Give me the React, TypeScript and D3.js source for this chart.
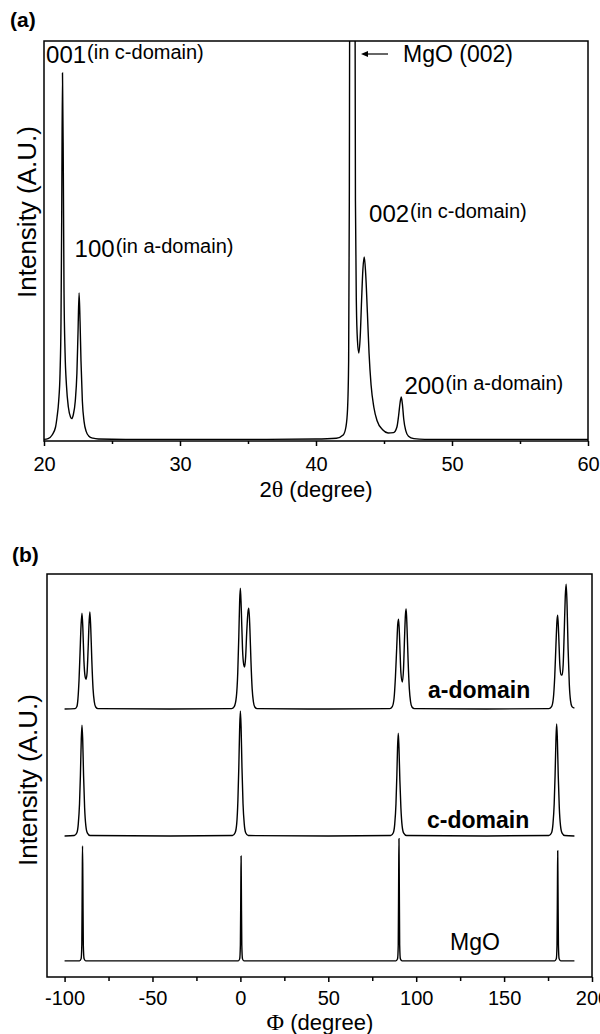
import React, { useEffect, useRef } from 'react';
import * as d3 from 'd3';

// (a) theta-2theta scan: [2theta, intensity in % of plot height]
const thetaScan: [number, number][] = [
  [20.0, 0.4], [20.3, 0.6], [20.6, 1.5], [20.85, 3.5], [20.96, 6], [21.08, 10], [21.18, 17],
  [21.25, 30], [21.3, 55], [21.36, 92], [21.42, 68], [21.47, 38], [21.55, 22], [21.65, 14],
  [21.79, 8.5], [21.95, 6], [22.04, 5.6], [22.15, 6.5], [22.3, 10], [22.42, 17], [22.5, 27],
  [22.58, 37], [22.65, 30], [22.72, 20], [22.82, 10], [22.95, 4.8], [23.1, 2.4], [23.3, 1.2],
  [23.6, 0.7], [24.0, 0.5], [26, 0.4], [30, 0.4], [35, 0.4], [40, 0.5], [41.5, 0.7],
  [42.0, 1.5], [42.2, 3.5], [42.32, 8], [42.4, 20], [42.45, 60], [42.5, 140], [42.85, 140],
  [42.9, 60], [42.97, 34], [43.05, 25], [43.15, 22], [43.25, 26], [43.35, 35], [43.45, 43],
  [43.55, 46], [43.65, 42], [43.78, 32], [43.9, 22], [44.05, 14], [44.25, 8.5], [44.5, 5],
  [44.9, 2.8], [45.3, 2.0], [45.7, 2.1], [45.95, 3.5], [46.08, 6.5], [46.18, 9.5], [46.27, 11],
  [46.36, 9], [46.45, 5.5], [46.6, 2.6], [46.8, 1.2], [47.2, 0.6], [48, 0.4], [55, 0.4], [60, 0.4],
];
const thetaTicks = [20, 30, 40, 50, 60];
const thetaMinor = [25, 35, 45, 55];

// (b) phi scans: [phi, intensity above own baseline]
const aDomainScan: [number, number][] = [
  [-100, 0], [-94, 0.1], [-93, 0.6], [-92.4, 2.5], [-91.8, 7], [-91.2, 14], [-90.6, 21], [-90.1, 23.8],
  [-89.6, 20], [-89.0, 12], [-88.3, 8], [-87.8, 7.4], [-87.2, 9], [-86.6, 15], [-86.0, 22], [-85.6, 24.1],
  [-85.1, 20], [-84.5, 12], [-83.8, 5], [-83.1, 1.8], [-82.3, 0.5], [-81, 0.1], [-40, 0],
  [-5, 0.1], [-3.5, 0.6], [-2.3, 3], [-1.5, 9], [-0.9, 18], [-0.4, 27], [0.0, 30], [0.5, 25],
  [1.2, 15], [1.9, 11], [2.4, 10.4], [3.0, 13], [3.6, 19], [4.3, 24], [4.8, 25], [5.4, 20],
  [6.0, 12], [6.7, 5], [7.4, 1.8], [8.2, 0.5], [9.5, 0.1], [50, 0],
  [85, 0.1], [86.4, 0.6], [87.4, 2.6], [88.2, 8], [88.9, 15], [89.5, 21], [90.0, 22.3], [90.6, 17],
  [91.3, 9], [92.1, 6.7], [92.8, 10], [93.4, 18], [93.9, 23.5], [94.3, 24.8], [94.8, 20], [95.4, 12],
  [96.1, 5], [96.8, 1.8], [97.6, 0.5], [99, 0.1], [140, 0],
  [175.5, 0.1], [177, 0.6], [178, 2.6], [178.8, 8], [179.5, 16], [180.1, 22], [180.5, 23.3],
  [181.0, 19], [181.7, 11], [182.4, 8.5], [183.0, 8.4], [183.6, 11], [184.2, 19], [184.8, 28],
  [185.3, 31], [185.8, 26], [186.4, 15], [187.1, 6], [187.8, 2], [188.6, 0.6], [190, 0.2],
];
const cDomainScan: [number, number][] = [
  [-100, 0], [-94.5, 0.1], [-93, 0.8], [-92.2, 3], [-91.5, 8], [-91, 15], [-90.5, 24], [-90.1, 27.5],
  [-89.7, 24], [-89.2, 15], [-88.6, 7], [-87.9, 2.5], [-87, 0.7], [-85.5, 0.1], [-40, 0],
  [-4.5, 0.1], [-3, 0.8], [-2.1, 3], [-1.4, 9], [-0.9, 17], [-0.4, 27], [0, 31], [0.4, 27],
  [0.9, 17], [1.5, 8], [2.2, 3], [3, 0.8], [4.5, 0.1], [50, 0],
  [85.5, 0.1], [87, 0.8], [87.8, 3], [88.5, 8], [89, 15], [89.4, 22], [89.8, 25.5], [90.2, 22],
  [90.7, 14], [91.3, 7], [92, 2.5], [92.9, 0.7], [94.5, 0.1], [140, 0],
  [175.5, 0.1], [177, 0.8], [177.8, 3], [178.5, 8], [179, 15], [179.5, 24], [179.9, 27.8],
  [180.3, 24], [180.8, 15], [181.4, 7], [182.1, 2.5], [183, 0.7], [184.5, 0.1], [190, 0],
];
const mgoScan: [number, number][] = [
  [-100, 0], [-91.5, 0], [-90.6, 0.5], [-90.2, 4], [-89.95, 20], [-89.8, 28.5], [-89.6, 20],
  [-89.35, 4], [-88.9, 0.5], [-88, 0], [-40, 0],
  [-1.2, 0], [-0.4, 0.5], [0.0, 4], [0.25, 18], [0.4, 26], [0.55, 18], [0.8, 4], [1.2, 0.5], [2, 0], [50, 0],
  [88.5, 0], [89.4, 0.5], [89.8, 4], [90.05, 22], [90.2, 30.3], [90.35, 22], [90.6, 4], [91.0, 0.5],
  [92, 0], [140, 0],
  [178.8, 0], [179.7, 0.5], [180.1, 4], [180.35, 19], [180.5, 27.3], [180.65, 19], [180.9, 4],
  [181.3, 0.5], [182.2, 0], [190, 0],
];
const phiTicks = [-100, -50, 0, 50, 100, 150, 200];
const phiMinor = [-75, -25, 25, 75, 125, 175];
const phiBaselines = { a: 66.5, c: 35, mgo: 4 };

export default function App() {
  const ref = useRef<SVGSVGElement>(null);

  useEffect(() => {
    const svg = d3.select(ref.current);
    svg.selectAll('*').remove();
    const sans = 'Liberation Sans, Arial, Helvetica, sans-serif';
    const serif = 'Liberation Serif, Times New Roman, serif';

    // ---------- panel (a) ----------
    const xA = d3.scaleLinear().domain([20, 60]).range([44, 588]);
    const yA = d3.scaleLinear().domain([0, 100]).range([441, 41]);

    svg.append('clipPath').attr('id', 'clipA')
      .append('rect').attr('x', 44).attr('y', 41).attr('width', 544).attr('height', 400);

    const lineA = d3.line<[number, number]>()
      .x(d => xA(d[0])).y(d => yA(d[1])).curve(d3.curveMonotoneX);

    svg.append('path').datum(thetaScan)
      .attr('d', lineA).attr('fill', 'none').attr('stroke', '#000')
      .attr('stroke-width', 1.4).attr('clip-path', 'url(#clipA)');

    svg.append('rect').attr('x', 44).attr('y', 41).attr('width', 544).attr('height', 400)
      .attr('fill', 'none').attr('stroke', '#000').attr('stroke-width', 1.5);

    const axA = svg.append('g').attr('transform', 'translate(0,441)')
      .call(d3.axisBottom(xA).tickValues(thetaTicks).tickSize(5).tickPadding(11)
        .tickFormat(d => String(d)));
    axA.select('.domain').remove();
    axA.selectAll('text').attr('font-size', 20).attr('font-family', sans).attr('fill', '#000');
    axA.selectAll('line').attr('stroke-width', 1.5);
    const axAm = svg.append('g').attr('transform', 'translate(0,441)')
      .call(d3.axisBottom(xA).tickValues(thetaMinor).tickSize(3).tickFormat(() => ''));
    axAm.select('.domain').remove();
    axAm.selectAll('line').attr('stroke-width', 1.5);

    const tA = svg.append('text').attr('x', 316).attr('y', 497).attr('text-anchor', 'middle')
      .attr('font-family', sans).attr('font-size', 22);
    tA.append('tspan').text('2');
    tA.append('tspan').attr('font-family', serif).attr('font-size', 24).text('θ');
    tA.append('tspan').text(' (degree)');

    svg.append('text').attr('transform', 'translate(36,212) rotate(-90)')
      .attr('text-anchor', 'middle').attr('font-family', sans).attr('font-size', 26)
      .text('Intensity (A.U.)');

    svg.append('text').attr('x', 10).attr('y', 27).attr('font-family', sans)
      .attr('font-weight', 'bold').attr('font-size', 21).text('(a)');

    const peakLabel = (num: string, note: string, x: number, y: number) => {
      const t = svg.append('text').attr('x', x).attr('y', y).attr('font-family', sans);
      t.append('tspan').attr('font-size', 24).text(num);
      t.append('tspan').attr('font-size', 20).attr('dx', 1).attr('dy', -4).text(note);
    };
    peakLabel('001', '(in c-domain)', xA(20.15), 63);
    peakLabel('100', '(in a-domain)', xA(22.25), 257);
    peakLabel('002', '(in c-domain)', xA(43.9), 222);
    peakLabel('200', '(in a-domain)', xA(46.5), 394);

    svg.append('line').attr('x1', 366).attr('x2', 388).attr('y1', 54).attr('y2', 54)
      .attr('stroke', '#000').attr('stroke-width', 1.2);
    svg.append('path').attr('d', 'M361,54 L368,51 L368,57 Z').attr('fill', '#000');
    svg.append('text').attr('x', 403).attr('y', 62).attr('font-family', sans)
      .attr('font-size', 23).text('MgO (002)');

    // ---------- panel (b) ----------
    const xB = d3.scaleLinear().domain([-110, 200]).range([47, 592]);
    const yB = d3.scaleLinear().domain([0, 100]).range([977, 574]);

    const drawScan = (data: [number, number][], base: number) => {
      const line = d3.line<[number, number]>()
        .x(d => xB(d[0])).y(d => yB(base + d[1])).curve(d3.curveMonotoneX);
      svg.append('path').datum(data).attr('d', line).attr('fill', 'none')
        .attr('stroke', '#000').attr('stroke-width', 1.4);
    };
    drawScan(aDomainScan, phiBaselines.a);
    drawScan(cDomainScan, phiBaselines.c);
    drawScan(mgoScan, phiBaselines.mgo);

    svg.append('rect').attr('x', 47).attr('y', 574).attr('width', 545).attr('height', 403)
      .attr('fill', 'none').attr('stroke', '#000').attr('stroke-width', 1.5);

    const axB = svg.append('g').attr('transform', 'translate(0,977)')
      .call(d3.axisBottom(xB).tickValues(phiTicks).tickSize(5).tickPadding(9)
        .tickFormat(d => String(d)));
    axB.select('.domain').remove();
    axB.selectAll('text').attr('font-size', 20).attr('font-family', sans).attr('fill', '#000');
    axB.selectAll('line').attr('stroke-width', 1.5);
    const axBm = svg.append('g').attr('transform', 'translate(0,977)')
      .call(d3.axisBottom(xB).tickValues(phiMinor).tickSize(4).tickFormat(() => ''));
    axBm.select('.domain').remove();
    axBm.selectAll('line').attr('stroke-width', 1.5);

    const tB = svg.append('text').attr('x', 320).attr('y', 1030).attr('text-anchor', 'middle')
      .attr('font-family', sans).attr('font-size', 22);
    tB.append('tspan').attr('font-family', serif).attr('font-size', 24).text('Φ');
    tB.append('tspan').text('  (degree)');

    svg.append('text').attr('transform', 'translate(37,780) rotate(-90)')
      .attr('text-anchor', 'middle').attr('font-family', sans).attr('font-size', 26)
      .text('Intensity (A.U.)');

    svg.append('text').attr('x', 12).attr('y', 562).attr('font-family', sans)
      .attr('font-weight', 'bold').attr('font-size', 21).text('(b)');

    svg.append('text').attr('x', 428).attr('y', 698).attr('font-family', sans)
      .attr('font-weight', 'bold').attr('font-size', 23).text('a-domain');
    svg.append('text').attr('x', 427).attr('y', 828).attr('font-family', sans)
      .attr('font-weight', 'bold').attr('font-size', 23).text('c-domain');
    svg.append('text').attr('x', 450).attr('y', 950).attr('font-family', sans)
      .attr('font-size', 23).text('MgO');
  }, []);

  return (
    <svg ref={ref} width={600} height={1034}
      style={{ position: 'absolute', left: 0, top: 0, background: '#fff' }} />
  );
}
